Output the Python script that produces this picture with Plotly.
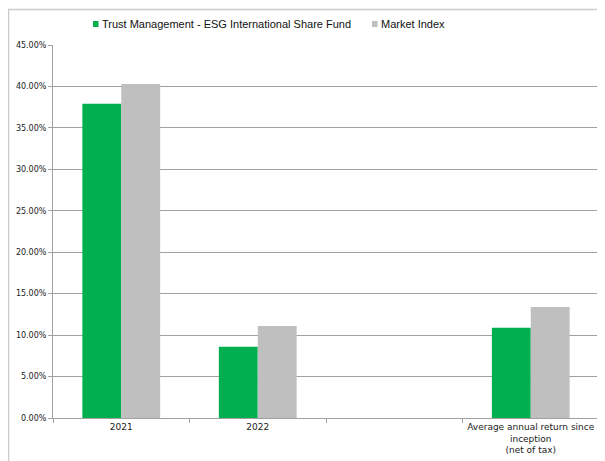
import plotly.graph_objects as go

categories = ["2021", "2022", " ", "Average annual return since<br>inception<br>(net of tax)"]
fund_values = [37.9, 8.6, None, 10.9]
index_values = [40.3, 11.1, None, 13.4]
fund_name = "Trust Management - ESG International Share Fund"
index_name = "Market Index"
fund_color = "#00B050"
index_color = "#BFBFBF"

W, H = 605, 461
OFF = 8  # page body margin
ML, MT = 53 - OFF, 45 - OFF
MR = W - (599 - OFF)
MB = H - (418 - OFF)
PW, PH = W - ML - MR, H - MT - MB


def px(x):
    return (x - OFF - ML) / PW


def py(y):
    return (H - MB - (y - OFF)) / PH


fig = go.Figure()
fig.add_trace(go.Bar(x=categories, y=fund_values, name=fund_name, marker_color=fund_color,
                     marker_line_width=0, showlegend=False))
fig.add_trace(go.Bar(x=categories, y=index_values, name=index_name, marker_color=index_color,
                     marker_line_width=0, showlegend=False))

shapes = [dict(type="rect", xref="paper", yref="paper", x0=px(8.5), x1=px(640), y0=py(520),
               y1=py(9.5), line=dict(color="#CCCCCC", width=1.5), fillcolor="rgba(0,0,0,0)",
               layer="below")]
annotations = []
legend_items = [(fund_name, fund_color, 93), (index_name, index_color, 372)]
for name, color, x0 in legend_items:
    shapes.append(dict(type="rect", xref="paper", yref="paper", x0=px(x0), x1=px(x0 + 5.5),
                       y0=py(27), y1=py(21), line=dict(width=0), fillcolor=color))
    annotations.append(dict(text=name, xref="paper", yref="paper", x=px(x0 + 6.5), y=py(24),
                            xanchor="left", yanchor="middle", showarrow=False,
                            font=dict(family="Liberation Sans", size=11, color="#111111")))

fig.update_layout(
    width=W, height=H,
    margin=dict(l=ML, r=MR, t=MT, b=MB),
    paper_bgcolor="white", plot_bgcolor="white",
    barmode="group", bargap=0.43, bargroupgap=0,
    font=dict(family="DejaVu Sans", size=8, color="#222222"),
    showlegend=False,
    xaxis=dict(showline=True, linecolor="#A0A0A0", linewidth=1, ticks="outside",
               tickcolor="#A0A0A0", ticklen=4, tickson="boundaries", showgrid=False,
               tickangle=0, automargin=False, tickfont=dict(size=9)),
    yaxis=dict(range=[0, 45], dtick=5, tickformat=".2f", ticksuffix="%", showgrid=True,
               gridcolor="#A0A0A0", gridwidth=1, showline=True, linecolor="#A0A0A0",
               ticks="outside", tickcolor="#A0A0A0", ticklen=4, zeroline=False,
               automargin=False, tickfont=dict(size=8)),
    shapes=shapes,
    annotations=annotations,
)

fig.write_html("out.html")
